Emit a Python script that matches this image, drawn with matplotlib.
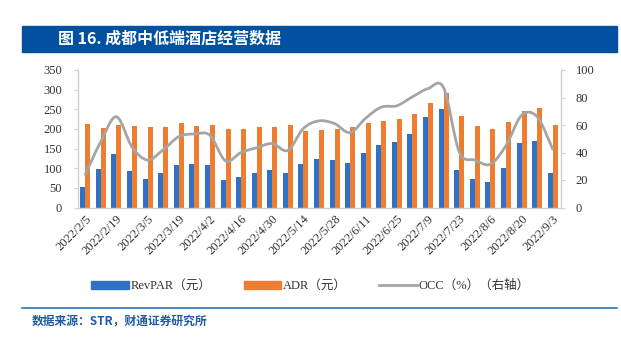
import matplotlib.pyplot as plt
import matplotlib.patches as mpatches
from matplotlib.path import Path
from matplotlib.lines import Line2D
import numpy as np

plt.rcParams['font.family'] = ['Liberation Serif', 'Noto Sans CJK SC']

dates = ['2022/2/5', '2022/2/12', '2022/2/19', '2022/2/26', '2022/3/5', '2022/3/12',
         '2022/3/19', '2022/3/26', '2022/4/2', '2022/4/9', '2022/4/16', '2022/4/23',
         '2022/4/30', '2022/5/7', '2022/5/14', '2022/5/21', '2022/5/28', '2022/6/4',
         '2022/6/11', '2022/6/18', '2022/6/25', '2022/7/2', '2022/7/9', '2022/7/16',
         '2022/7/23', '2022/7/30', '2022/8/6', '2022/8/13', '2022/8/20', '2022/8/27',
         '2022/9/3']
revpar = [52, 99, 136, 94, 72, 87, 108, 110, 108, 70, 78, 89, 96, 89, 111, 123,
          122, 113, 138, 159, 166, 187, 230, 250, 95, 73, 65, 100, 163, 169, 89]
adr = [213, 203, 211, 208, 205, 205, 214, 208, 210, 200, 200, 204, 206, 209, 195, 198,
       201, 206, 214, 219, 225, 237, 267, 292, 233, 208, 200, 217, 246, 253, 209]
occ = [24, 48, 66, 44, 34.5, 42, 51.5, 53.5, 52.5, 34, 40, 43.5, 46.5, 41.5, 57.5, 63,
       61, 54.5, 65, 73, 74, 80.5, 86.5, 87, 40.5, 34.5, 31.5, 45, 67, 66, 42.5]

c_blue = '#3070C6'
c_orange = '#ED7D31'
c_gray = '#A5A5A5'
c_axis = '#D0D0D0'

fig = plt.figure(figsize=(6.21, 3.43), dpi=100)

# title banner
fig.patches.append(mpatches.Rectangle((22 / 621, 1 - 52 / 343), 595 / 621, 26 / 343,
                                      transform=fig.transFigure, color='#0250A0', zorder=0))
fig.text(58 / 621, 1 - 39 / 343, '图 16. 成都中低端酒店经营数据', color='white', fontsize=11.5,
         fontweight='bold', va='center', ha='left', family=['Noto Sans CJK SC'])

ax = fig.add_axes([77.5 / 621, 1 - 207.5 / 343, 483 / 621, 137.5 / 343])
x = np.arange(len(dates))
w = 0.32
ax.bar(x - w / 2, revpar, w, color=c_blue, label='RevPAR（元）', zorder=2)
ax.bar(x + w / 2, adr, w, color=c_orange, label='ADR（元）', zorder=2)
ax.set_xlim(-0.5, len(dates) - 0.5)
ax.set_ylim(0, 350)
ax.set_yticks(range(0, 351, 50))
ax.set_xticks(x[::2])
ax.set_xticklabels(dates[::2], rotation=45, ha='right', rotation_mode='anchor')

ax2 = ax.twinx()
ax2.set_ylim(0, 100)
ax2.set_yticks(range(0, 101, 20))

# smoothed OCC line: cubic Bezier segments through the weekly points
pts = np.column_stack([x, occ]).astype(float)
verts = [tuple(pts[0])]
codes = [Path.MOVETO]
n = len(pts)
for i in range(n - 1):
    p0 = pts[max(i - 1, 0)]
    p1 = pts[i]
    p2 = pts[i + 1]
    p3 = pts[min(i + 2, n - 1)]
    c1 = p1 + (p2 - p0) / 6
    c2 = p2 - (p3 - p1) / 6
    verts += [tuple(c1), tuple(c2), tuple(p2)]
    codes += [Path.CURVE4] * 3
ax2.add_patch(mpatches.PathPatch(Path(verts, codes), fill=False, edgecolor=c_gray,
                                 lw=2, zorder=3, capstyle='round'))

for a in (ax, ax2):
    for s in a.spines.values():
        s.set_visible(False)
    a.tick_params(labelsize=9, colors='#333333', length=3, width=0.8)
ax.spines['left'].set_visible(True)
ax.spines['bottom'].set_visible(True)
ax2.spines['right'].set_visible(True)
for s in (ax.spines['left'], ax.spines['bottom'], ax2.spines['right']):
    s.set_color(c_axis)
    s.set_linewidth(1)
ax.tick_params(axis='y', color=c_axis, pad=8)
ax2.tick_params(axis='y', color=c_axis, pad=8)
ax.tick_params(axis='x', length=0, pad=4)

handles = [mpatches.Patch(color=c_blue), mpatches.Patch(color=c_orange),
           Line2D([], [], color=c_gray, lw=2)]
fig.legend(handles, ['RevPAR（元）', 'ADR（元）', 'OCC（%）（右轴）'], loc='center',
           bbox_to_anchor=(0.5, 1 - 286 / 343), ncol=3, frameon=False, fontsize=9,
           handlelength=3.0, handleheight=0.6, columnspacing=2.6, handletextpad=0.15,
           labelcolor='#333333')

fig.add_artist(Line2D([22 / 621, 617 / 621], [1 - 308 / 343] * 2, color='#2E75B6', lw=1.2,
                      transform=fig.transFigure))
fig.text(32 / 621, 1 - 322 / 343, '数据来源：STR，财通证券研究所', color='#1F5AA6', fontsize=8.5,
         fontweight='bold', va='center', ha='left', family=['Noto Sans CJK SC'])

fig.savefig('out.png', dpi=100)
